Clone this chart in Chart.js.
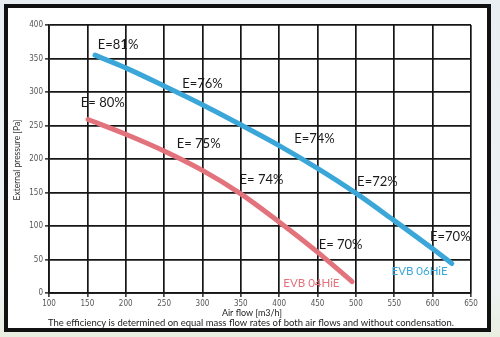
<!DOCTYPE html>
<html>
<head>
<meta charset="utf-8">
<script src="https://cdn.jsdelivr.net/npm/chart.js@4.4.1/dist/chart.umd.min.js"></script>
<style>
  html, body { margin: 0; padding: 0; }
  body {
    width: 500px; height: 337px; overflow: hidden;
    background: linear-gradient(to bottom, #e8eef2 0%, #eef2f3 85%, #e9efe0 100%);
    position: relative;
  }
  #frame {
    position: absolute; left: 4px; top: 4px; width: 479px; height: 320px;
    border: 4px solid #111; background: #fff;
  }
  #wrap { position: absolute; left: 0; top: 0; width: 500px; height: 337px; }
</style>
</head>
<body>
<div id="frame"></div>
<div id="wrap"><canvas id="myChart"></canvas></div>
<script>
// ── données ──
const blueX = [160, 200, 250, 300, 350, 400, 450, 500, 550, 600, 625];
const blueY = [355, 336, 309, 281, 251, 220, 186, 149, 108, 66, 44];
const redX  = [151, 200, 250, 300, 350, 400, 450, 495];
const redY  = [259, 237, 212, 183, 148, 106, 61, 17];

const blueName = 'EVB 06HiE';
const redName  = 'EVB 04HiE';

// étiquettes de rendement (x, y en unités du graphique)
const blueLabelText = ['E=81%', 'E=76%', 'E=74%', 'E=72%', 'E=70%'];
const blueLabelX    = [190, 300, 446, 528, 623];
const blueLabelY    = [370, 312, 230, 166, 84];
const redLabelText  = ['E= 80%', 'E= 75%', 'E= 74%', 'E= 70%'];
const redLabelX     = [170, 295, 377, 480];
const redLabelY     = [284, 222, 169, 72];

// position des noms de séries
const blueNameX = 583, blueNameY = 33;
const redNameX  = 442, redNameY  = 15;

const xTitle = 'Air flow [m3/h]';
const yTitle = 'External pressure [Pa]';
const footer = 'The efficiency is determined on equal mass flow rates of both air flows and without condensation.';

const BLUE = '#3ba7d9';
const RED  = '#e2737c';
const FONT = 'Lato, "Open Sans", sans-serif';

const toPoints = (xs, ys) => xs.map((x, i) => ({ x, y: ys[i] }));

// textes supplémentaires dessinés via les échelles
const textPlugin = {
  id: 'texts',
  afterDraw(chart) {
    const { ctx, scales: { x, y } } = chart;
    ctx.save();
    ctx.textAlign = 'center';
    ctx.textBaseline = 'middle';

    ctx.fillStyle = '#1a1a1a';
    ctx.font = '13px ' + FONT;
    blueLabelText.forEach((t, i) => {
      ctx.fillText(t, x.getPixelForValue(blueLabelX[i]), y.getPixelForValue(blueLabelY[i]));
    });
    redLabelText.forEach((t, i) => {
      ctx.fillText(t, x.getPixelForValue(redLabelX[i]), y.getPixelForValue(redLabelY[i]));
    });

    ctx.font = '11.5px ' + FONT;
    ctx.fillStyle = BLUE;
    ctx.fillText(blueName, x.getPixelForValue(blueNameX), y.getPixelForValue(blueNameY));
    ctx.fillStyle = RED;
    ctx.fillText(redName, x.getPixelForValue(redNameX), y.getPixelForValue(redNameY));

    // titres d'axes et note
    ctx.fillStyle = '#222';
    ctx.font = '9px ' + FONT;
    ctx.fillText(xTitle, 252, 313);
    ctx.font = '10px ' + FONT;
    ctx.fillText(footer, 251, 323, 406);

    ctx.translate(17, 160);
    ctx.rotate(-Math.PI / 2);
    ctx.font = '8.5px ' + FONT;
    ctx.fillStyle = '#333';
    ctx.fillText(yTitle, 0, 0);
    ctx.restore();
  }
};

const gridStyle = { color: '#161616', lineWidth: 1.7, tickLength: 4, tickColor: '#444' };
const tickFont  = { family: '"Liberation Sans Narrow", "DejaVu Sans Condensed", sans-serif', size: 8 };

new Chart(document.getElementById('myChart'), {
  type: 'line',
  data: {
    datasets: [
      {
        label: blueName,
        data: toPoints(blueX, blueY),
        borderColor: BLUE,
        borderWidth: 5,
        pointRadius: 0,
        cubicInterpolationMode: 'monotone',
        borderCapStyle: 'round',
        fill: false
      },
      {
        label: redName,
        data: toPoints(redX, redY),
        borderColor: RED,
        borderWidth: 5,
        pointRadius: 0,
        cubicInterpolationMode: 'monotone',
        borderCapStyle: 'round',
        fill: false
      }
    ]
  },
  options: {
    responsive: true,
    maintainAspectRatio: false,
    animation: false,
    layout: { padding: { top: 25, right: 29, left: 0, bottom: 0 } },
    plugins: { legend: { display: false }, tooltip: { enabled: false } },
    scales: {
      x: {
        type: 'linear',
        min: 100, max: 650,
        ticks: { stepSize: 50, color: '#555', font: tickFont, padding: 2, maxRotation: 0 },
        grid: gridStyle,
        border: { color: '#161616', width: 1.7 },
        afterFit: s => { s.height = 44; }
      },
      y: {
        min: 0, max: 400,
        ticks: { stepSize: 50, color: '#555', font: tickFont, padding: 2 },
        grid: gridStyle,
        border: { color: '#161616', width: 1.7 },
        afterFit: s => { s.width = 49; }
      }
    }
  },
  plugins: [textPlugin]
});
</script>
</body>
</html>
